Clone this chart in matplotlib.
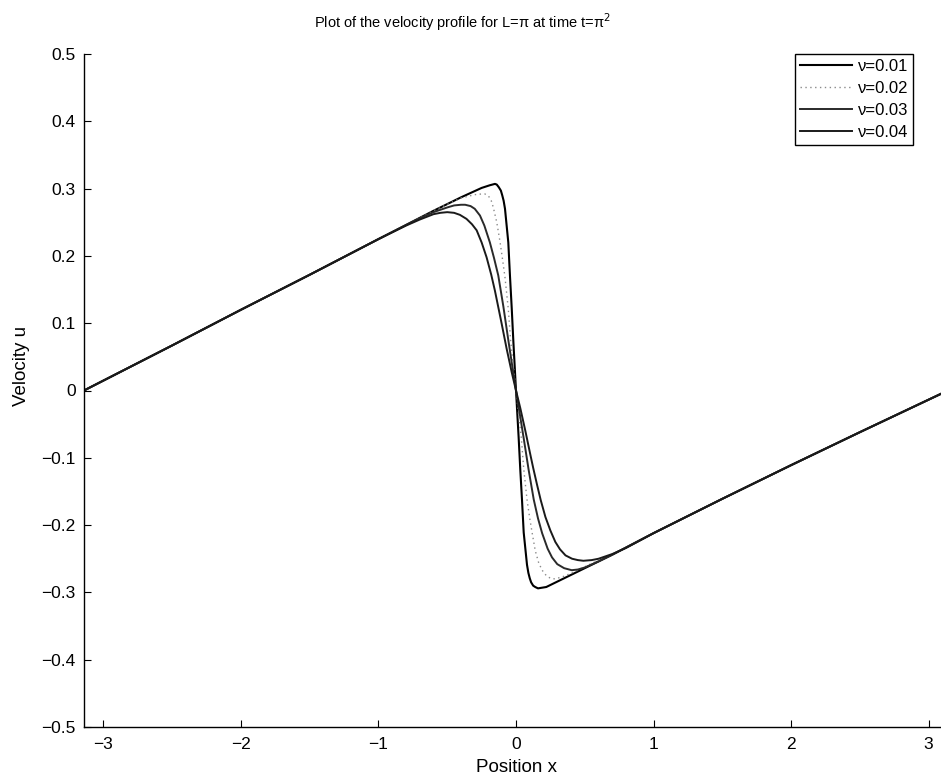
import matplotlib
matplotlib.use("Agg")
import matplotlib.pyplot as plt

plt.rcParams['font.family'] = ['Liberation Sans', 'DejaVu Sans']

# velocity profiles, one (x, u) pair of lists per viscosity
x_nu1 = [-3.1416, -2.5, -2.0, -1.5, -1.0, -0.6, -0.4, -0.25, -0.19, -0.153, -0.14, -0.125,
         -0.11, -0.1, -0.09, -0.08, -0.056, -0.044, -0.031, -0.019, 0.0, 0.019, 0.031, 0.044,
         0.056, 0.08, 0.09, 0.1, 0.11, 0.125, 0.14, 0.16, 0.22, 0.3, 0.45, 0.7, 1.0, 1.5,
         2.0, 2.5, 3.1416]
u_nu1 = [0.0, 0.067, 0.120, 0.172, 0.225, 0.267, 0.287, 0.301, 0.305, 0.307, 0.306, 0.302,
         0.297, 0.290, 0.282, 0.270, 0.220, 0.171, 0.122, 0.072, 0.0, -0.069, -0.117, -0.164,
         -0.211, -0.259, -0.271, -0.279, -0.285, -0.290, -0.292, -0.294, -0.292, -0.284,
         -0.269, -0.244, -0.212, -0.161, -0.111, -0.062, 0.0]

x_nu2 = [-3.1416, -2.5, -2.0, -1.5, -1.0, -0.6, -0.4, -0.3, -0.25, -0.226, -0.2, -0.18,
         -0.165, -0.14, -0.117, -0.1, -0.08, -0.056, -0.039, -0.02, 0.0, 0.02, 0.039, 0.056,
         0.08, 0.1, 0.117, 0.14, 0.165, 0.19, 0.22, 0.25, 0.284, 0.35, 0.45, 0.55, 0.7, 1.0,
         1.5, 2.0, 2.5, 3.1416]
u_nu2 = [0.0, 0.067, 0.120, 0.172, 0.225, 0.267, 0.286, 0.291, 0.292, 0.292, 0.289, 0.282,
         0.272, 0.250, 0.222, 0.198, 0.168, 0.121, 0.074, 0.038, 0.0, -0.037, -0.071, -0.116,
         -0.162, -0.190, -0.211, -0.238, -0.256, -0.267, -0.275, -0.279, -0.280, -0.276,
         -0.267, -0.257, -0.244, -0.212, -0.161, -0.111, -0.062, 0.0]

x_nu3 = [-3.1416, -2.5, -2.0, -1.5, -1.0, -0.7, -0.6, -0.5, -0.45, -0.4, -0.37, -0.33, -0.3,
         -0.262, -0.23, -0.19, -0.16, -0.129, -0.092, -0.056, -0.015, 0.0, 0.015, 0.056, 0.092,
         0.129, 0.16, 0.19, 0.23, 0.262, 0.3, 0.35, 0.405, 0.45, 0.5, 0.6, 0.7, 1.0, 1.5, 2.0,
         2.5, 3.1416]
u_nu3 = [0.0, 0.067, 0.120, 0.172, 0.225, 0.256, 0.265, 0.272, 0.275, 0.276, 0.276, 0.274,
         0.270, 0.260, 0.245, 0.220, 0.197, 0.171, 0.125, 0.075, 0.020, 0.0, -0.019, -0.071,
         -0.118, -0.162, -0.190, -0.212, -0.235, -0.248, -0.258, -0.264, -0.267, -0.266,
         -0.263, -0.254, -0.244, -0.212, -0.161, -0.111, -0.062, 0.0]

x_nu4 = [-3.1416, -2.5, -2.0, -1.5, -1.0, -0.8, -0.7, -0.6, -0.55, -0.5, -0.45, -0.408, -0.36,
         -0.32, -0.286, -0.25, -0.214, -0.18, -0.153, -0.125, -0.104, -0.068, -0.031, 0.0,
         0.031, 0.068, 0.104, 0.125, 0.153, 0.18, 0.214, 0.25, 0.286, 0.32, 0.36, 0.408, 0.45,
         0.49, 0.55, 0.6, 0.7, 0.8, 1.0, 1.5, 2.0, 2.5, 3.1416]
u_nu4 = [0.0, 0.067, 0.120, 0.172, 0.225, 0.245, 0.254, 0.262, 0.264, 0.265, 0.264, 0.261,
         0.255, 0.247, 0.238, 0.220, 0.198, 0.172, 0.148, 0.120, 0.099, 0.062, 0.027, 0.0,
         -0.026, -0.060, -0.095, -0.115, -0.140, -0.163, -0.188, -0.208, -0.225, -0.236,
         -0.245, -0.250, -0.252, -0.253, -0.252, -0.250, -0.243, -0.234, -0.212, -0.161,
         -0.111, -0.062, 0.0]

labels = ['ν=0.01', 'ν=0.02', 'ν=0.03', 'ν=0.04']
x_ticks = [-3, -2, -1, 0, 1, 2, 3]
x_ticklabels = ['\u22123', '\u22122', '\u22121', '0', '1', '2', '3']
y_ticks = [-0.5, -0.4, -0.3, -0.2, -0.1, 0, 0.1, 0.2, 0.3, 0.4, 0.5]
y_ticklabels = ['\u22120.5', '\u22120.4', '\u22120.3', '\u22120.2', '\u22120.1', '0',
                '0.1', '0.2', '0.3', '0.4', '0.5']

fig = plt.figure(figsize=(9.41, 7.79), dpi=100)
# the scan cuts the axes off a little on the right
ax = fig.add_axes([84 / 941, 1 - 727 / 779, (948 - 84) / 941, 673 / 779])

ax.plot(x_nu1, u_nu1, color='black', lw=1.5, label=labels[0])
ax.plot(x_nu2, u_nu2, color='#8a8a8a', lw=1.0, ls=(0, (1, 2.5)), label=labels[1])
ax.plot(x_nu3, u_nu3, color='#2a2a2a', lw=1.4, label=labels[2])
ax.plot(x_nu4, u_nu4, color='#1a1a1a', lw=1.4, label=labels[3])

ax.set_xlim(-3.1416, 3.1416)
ax.set_ylim(-0.5, 0.5)
ax.set_xticks(x_ticks)
ax.set_xticklabels(x_ticklabels)
ax.set_yticks(y_ticks)
ax.set_yticklabels(y_ticklabels)
ax.tick_params(direction='in', length=5, width=0.8, labelsize=12.5, colors='black')
ax.tick_params(axis='x', pad=7)
ax.tick_params(axis='y', pad=6)
ax.spines['top'].set_visible(False)
ax.spines['right'].set_visible(False)
ax.spines['left'].set_linewidth(1.0)
ax.spines['bottom'].set_linewidth(1.0)

fig.text(462 / 941, 1 - 22 / 779, 'Plot of the velocity profile for L=π at time t=π$^2$',
         ha='center', va='center', fontsize=10.5)
fig.text(517 / 941, 1 - 767 / 779, 'Position x', ha='center', va='center', fontsize=13.5)
fig.text(22 / 941, 1 - 366 / 779, 'Velocity u', ha='center', va='center', rotation=90,
         fontsize=13.5)

leg = ax.legend(loc='upper right', bbox_to_anchor=(913 / 941, 1 - 54 / 779),
                bbox_transform=fig.transFigure, fancybox=False, framealpha=1,
                edgecolor='black', fontsize=12, handlelength=3.1, handletextpad=0.35,
                borderpad=0.3, labelspacing=0.42, borderaxespad=0)
leg.get_frame().set_linewidth(1.0)

fig.savefig('out.png', dpi=100)
